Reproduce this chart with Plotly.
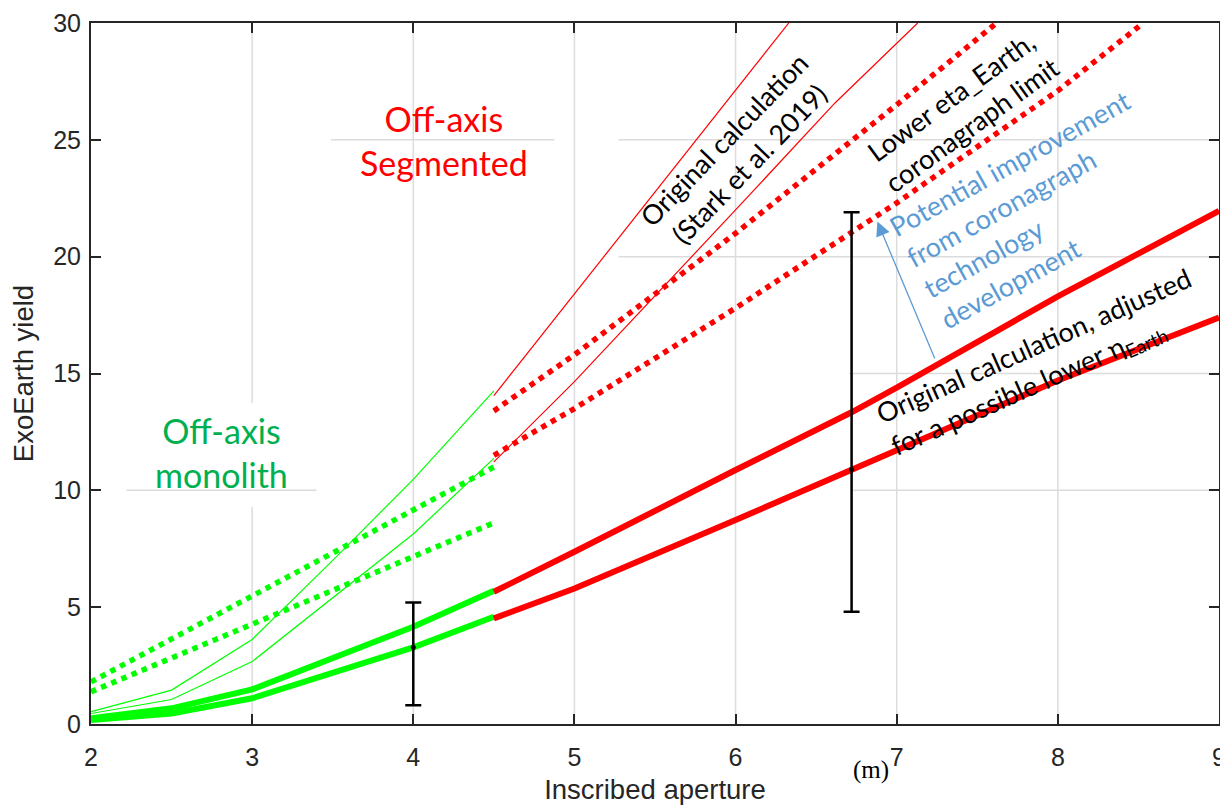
import plotly.graph_objects as go

# ---------------- data ----------------
x_mono = [2, 2.5, 3, 3.5, 4, 4.5]
mono_thick_hi = [0.24, 0.67, 1.48, 2.81, 4.16, 5.7]
mono_thick_lo = [0.17, 0.45, 1.1, 2.18, 3.28, 4.59]
mono_thin_hi = [0.53, 1.45, 3.62, 7.0, 10.47, 14.26]
mono_thin_lo = [0.45, 1.05, 2.67, 5.4, 8.13, 11.37]
x_mono_dot = [2, 4.5]
mono_dot_hi = [1.8, 11.0]
mono_dot_lo = [1.38, 8.61]

x_seg = [4.5, 5, 6, 6.72, 7, 8, 9]
seg_thick_hi = [5.66, 7.37, 10.87, 13.34, 14.4, 18.3, 21.96]
seg_thick_lo = [4.52, 5.8, 8.73, 10.9, 11.7, 14.7, 17.4]
x_seg_thin_hi = [4.5, 5, 6, 6.33]
seg_thin_hi = [14.05, 18.4, 27.1, 30.0]
x_seg_thin_lo = [4.5, 5, 6, 6.62, 7.13]
seg_thin_lo = [11.22, 14.65, 22.0, 26.6, 30.0]
x_seg_dot_hi = [4.5, 5, 6, 7, 7.62]
seg_dot_hi = [13.4, 15.8, 21.0, 26.5, 30.0]
x_seg_dot_lo = [4.5, 5, 6, 7, 8, 8.53]
seg_dot_lo = [11.5, 13.5, 17.8, 22.3, 27.1, 30.0]

err_x = [4, 6.72]
err_mid = [3.28, 10.9]
err_hi = [5.2, 21.9]
err_lo = [0.8, 4.8]

x_ticks = [2, 3, 4, 5, 6, 7, 8, 9]
y_ticks = [0, 5, 10, 15, 20, 25, 30]

# ---------------- styles ----------------
GREEN = "#00FF00"
RED = "#FF0000"
BLUE = "#5B9BD5"
AXIS = "#262626"
GRID = "#DCDCDC"
TXT_FONT = "Lato"
AX_FONT = "Liberation Sans"
DOT = "5.5px,5.5px"

fig = go.Figure()


def add_line(x, y, color, width, dash="solid"):
    fig.add_trace(go.Scatter(x=x, y=y, mode="lines",
                             line=dict(color=color, width=width, dash=dash),
                             showlegend=False, hoverinfo="skip"))


# thin lines (original calculation)
add_line(x_mono, mono_thin_hi, GREEN, 1.2)
add_line(x_mono, mono_thin_lo, GREEN, 1.2)
add_line(x_seg_thin_hi, seg_thin_hi, RED, 1.2)
add_line(x_seg_thin_lo, seg_thin_lo, RED, 1.2)
# dotted lines (coronagraph limit)
add_line(x_mono_dot, mono_dot_hi, GREEN, 5.5, DOT)
add_line(x_mono_dot, mono_dot_lo, GREEN, 5.5, DOT)
add_line(x_seg_dot_hi, seg_dot_hi, RED, 5.5, DOT)
add_line(x_seg_dot_lo, seg_dot_lo, RED, 5.5, DOT)
# thick lines (adjusted)
add_line(x_mono, mono_thick_hi, GREEN, 6)
add_line(x_mono, mono_thick_lo, GREEN, 6)
add_line(x_seg, seg_thick_hi, RED, 6)
add_line(x_seg, seg_thick_lo, RED, 6)

# error bars
fig.add_trace(go.Scatter(
    x=err_x, y=err_mid, mode="markers",
    marker=dict(color="black", size=5),
    error_y=dict(type="data", symmetric=False,
                 array=[h - m for h, m in zip(err_hi, err_mid)],
                 arrayminus=[m - l for m, l in zip(err_mid, err_lo)],
                 color="black", thickness=2.5, width=8),
    showlegend=False, hoverinfo="skip"))

# ---------------- gridlines (partly hidden in the reference) ----------------
shapes = []
grid_v = [(3, 0, 9.29), (3, 13.74, 30), (4, 0, 30), (5, 0, 30),
          (6, 0, 30), (7, 0, 30), (8, 0, 30)]
for gx, y0, y1 in grid_v:
    shapes.append(dict(type="line", xref="x", yref="y", x0=gx, x1=gx, y0=y0, y1=y1,
                       line=dict(color=GRID, width=1.5), layer="below"))
grid_h = [(25, 3.49, 4.875), (25, 5.274, 9), (20, 5.274, 9), (15, 6.706, 9),
          (10, 2.22, 3.40), (10, 6.725, 9)]
for gy, x0, x1 in grid_h:
    shapes.append(dict(type="line", xref="x", yref="y", x0=x0, x1=x1, y0=gy, y1=gy,
                       line=dict(color=GRID, width=1.5), layer="below"))

# ---------------- annotations ----------------
ann = []
ann.append(dict(x=4.19, y=24.99, xref="x", yref="y", text="Off-axis<br>Segmented",
                showarrow=False, font=dict(family=TXT_FONT, size=34, color=RED),
                xanchor="center", yanchor="middle"))
ann.append(dict(x=2.807, y=11.64, xref="x", yref="y", text="Off-axis<br>monolith",
                showarrow=False, font=dict(family=TXT_FONT, size=34, color="#00B050"),
                xanchor="center", yanchor="middle"))
ann.append(dict(x=6.003, y=24.48, xref="x", yref="y",
                text="Original calculation<br>(Stark et al. 2019)",
                showarrow=False, textangle=-46,
                font=dict(family=TXT_FONT, size=27, color="black"),
                xanchor="center", yanchor="middle"))
ann.append(dict(x=7.405, y=26.27, xref="x", yref="y",
                text="Lower eta_Earth,<br>coronagraph limit",
                showarrow=False, textangle=-36,
                font=dict(family=TXT_FONT, size=27, color="black"),
                xanchor="center", yanchor="middle"))
ann.append(dict(x=7.86, y=22.05, xref="x", yref="y",
                text="Potential improvement<br>from coronagraph<br>technology<br>development",
                showarrow=False, textangle=-29, align="left",
                font=dict(family=TXT_FONT, size=27, color=BLUE),
                xanchor="center", yanchor="middle"))
ann.append(dict(x=7.90, y=15.45, xref="x", yref="y",
                text="Original calculation, adjusted<br>for a possible lower \u03b7<sub>Earth</sub>",
                showarrow=False, textangle=-24, align="left",
                font=dict(family=TXT_FONT, size=27, color="black"),
                xanchor="center", yanchor="middle"))
# arrow
ann.append(dict(x=6.88, y=21.5, ax=7.24, ay=15.58, xref="x", yref="y",
                axref="x", ayref="y", text="", showarrow=True,
                arrowhead=2, arrowsize=2.2, arrowwidth=1.3, arrowcolor=BLUE))
# unit
ann.append(dict(x=6.84, y=-0.066, xref="x", yref="paper", text="(m)",
                showarrow=False, font=dict(family="Liberation Serif", size=25, color="black"),
                xanchor="center", yanchor="middle"))

axis_common = dict(showline=True, linecolor=AXIS, linewidth=2, mirror="ticks",
                   ticks="inside", ticklen=10, tickwidth=2, tickcolor=AXIS,
                   showgrid=False, zeroline=False, automargin=False,
                   ticklabeloverflow="allow",
                   tickfont=dict(family=AX_FONT, size=25, color=AXIS))

# the page adds an 8px body margin, so the figure is 8px smaller on each axis
fig.update_layout(
    width=1220, height=799,
    margin=dict(l=83, r=9, t=15, b=83),
    paper_bgcolor="white", plot_bgcolor="rgba(0,0,0,0)",
    shapes=shapes, annotations=ann, showlegend=False,
    xaxis=dict(range=[2, 9], tickvals=x_ticks,
               title=dict(text="Inscribed aperture", standoff=10,
                          font=dict(family=AX_FONT, size=27.5, color=AXIS)),
               ticklabelstandoff=10, **axis_common),
    yaxis=dict(range=[0, 30], tickvals=y_ticks,
               title=dict(text="ExoEarth yield", standoff=14,
                          font=dict(family=AX_FONT, size=27.5, color=AXIS)),
               ticklabelstandoff=3, **axis_common),
)

fig.write_html("out.html")
